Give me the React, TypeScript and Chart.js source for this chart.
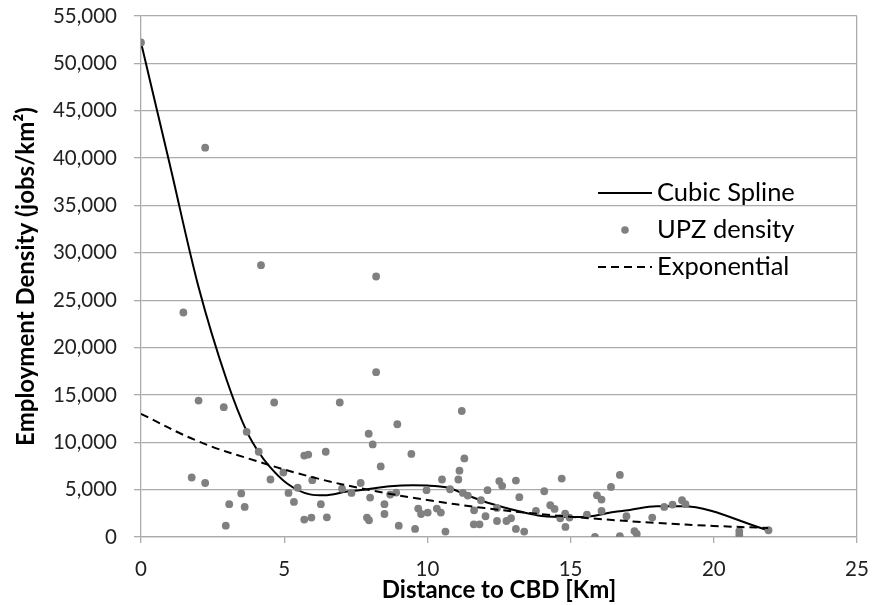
import React, { useEffect, useRef } from "react";
import { Chart, registerables } from "chart.js";

Chart.register(...registerables);

// UPZ density scatter (distance km, jobs/km²)
const upzX = [
  0, 2.24, 4.19, 8.21, 1.48, 8.21, 2.01, 2.89, 4.65, 6.94,
  3.69, 4.11, 7.95, 8.09, 8.37, 5.7, 5.84, 6.45, 1.77, 2.24,
  4.52, 4.97, 5.98, 5.15, 5.47, 3.5, 3.08, 3.62, 2.96, 5.34,
  6.28, 5.7, 5.95, 6.49, 7.02, 7.35, 7.67, 8.0, 7.89, 7.96,
  8.5, 11.2, 8.95, 9.44, 11.29, 11.12, 10.51, 11.08, 12.51, 12.61,
  13.09, 14.69, 16.72, 9.97, 10.79, 11.24, 11.41, 12.1, 11.87, 13.21,
  14.08, 8.7, 8.91, 8.5, 9.68, 9.78, 10.01, 10.33, 10.47, 11.63,
  12.43, 13.79, 14.29, 14.44, 11.62, 11.82, 9.0, 9.57, 10.63, 12.03,
  12.43, 12.76, 12.92, 13.09, 13.38, 14.64, 14.81, 14.82, 14.96, 15.57,
  15.92, 16.08, 16.41, 16.08, 15.85, 16.72, 16.95, 17.23, 17.31, 17.85,
  18.27, 18.56, 18.89, 19.01, 20.89, 20.89, 21.91,
];
const upzY = [
  52200, 41100, 28700, 27500, 23700, 17400, 14400, 13700, 14200, 14200,
  11100, 9000, 10900, 9770, 7450, 8600, 8700, 9000, 6280, 5700,
  6070, 6800, 6000, 4650, 5200, 4600, 3460, 3170, 1200, 3700,
  3460, 1840, 2050, 2080, 5100, 4650, 5700, 4160, 2050, 1770,
  3460, 13300, 11900, 8770, 8300, 7000, 6070, 6070, 5900, 5400,
  5960, 6170, 6550, 4940, 5040, 4650, 4370, 4940, 3880, 4200,
  4830, 4480, 4690, 2430, 3000, 2430, 2580, 3000, 2580, 2820,
  3070, 2750, 3350, 2960, 1340, 1340, 1200, 850, 570, 2190,
  1690, 1690, 1980, 850, 570, 1980, 2470, 1060, 2050, 2370,
  4400, 3950, 5290, 2750, 0, 100, 2190, 630, 320, 2050,
  3170, 3420, 3880, 3460, 630, 250, 710,
];

// Cubic spline fit
const splineX = [0, 1, 2, 3, 3.7, 4.1, 4.5, 5.1, 5.9, 6.4, 7.2, 7.8, 8.7, 9.5, 10.0, 10.7, 11.4, 12.2, 13.2, 14.0, 14.9, 15.7, 16.5, 17.0, 18.0, 18.9, 21.9];
const splineY = [52200, 39400, 26500, 16500, 11100, 9000, 7400, 5650, 4500, 4400, 4800, 5000, 5350, 5450, 5430, 5220, 4400, 3530, 2720, 2220, 2100, 2190, 2640, 2820, 3240, 3240, 710];

// Exponential fit
const expX = [0, 2, 4, 6, 8, 10, 12, 14, 16, 18, 20, 21.9];
const expY = [13000, 10100, 8050, 6300, 4950, 3900, 3050, 2400, 1900, 1480, 1170, 950];

const legendLabels = ["Cubic Spline", "UPZ density", "Exponential"];
const xTitle = "Distance to CBD [Km]";
const yTitle = "Employment Density (jobs/km²)";

const GRID = "#ABABAB";
const FONT = "Lato, 'Open Sans', sans-serif";

export default function App() {
  const ref = useRef<HTMLCanvasElement>(null);

  useEffect(() => {
    document.body.style.margin = "0";
    const canvas = ref.current;
    if (!canvas) return;

    const legendPlugin = {
      id: "insideLegend",
      afterDraw(chart: any) {
        const ctx = chart.ctx as CanvasRenderingContext2D;
        const a = chart.chartArea;
        const x0 = a.right - 259;
        const x1 = x0 + 54;
        const tx = x1 + 5;
        const rows = [a.top + 177, a.top + 214, a.top + 251];
        ctx.save();
        ctx.font = `25.5px ${FONT}`;
        ctx.fillStyle = "#000";
        ctx.textBaseline = "middle";
        ctx.textAlign = "left";
        ctx.strokeStyle = "#000";
        ctx.lineWidth = 2;
        ctx.setLineDash([]);
        ctx.beginPath();
        ctx.moveTo(x0, rows[0]);
        ctx.lineTo(x1, rows[0]);
        ctx.stroke();
        ctx.fillText(legendLabels[0], tx, rows[0]);
        ctx.fillStyle = "#808080";
        ctx.beginPath();
        ctx.arc((x0 + x1) / 2, rows[1], 3.8, 0, Math.PI * 2);
        ctx.fill();
        ctx.fillStyle = "#000";
        ctx.fillText(legendLabels[1], tx, rows[1]);
        ctx.setLineDash([8, 5]);
        ctx.beginPath();
        ctx.moveTo(x0, rows[2]);
        ctx.lineTo(x1, rows[2]);
        ctx.stroke();
        ctx.setLineDash([]);
        ctx.fillText(legendLabels[2], tx, rows[2]);
        ctx.restore();
      },
    };

    const chart = new Chart(canvas, {
      type: "scatter",
      data: {
        datasets: [
          {
            label: legendLabels[0],
            type: "line",
            data: splineX.map((x, i) => ({ x, y: splineY[i] })),
            borderColor: "#000",
            borderWidth: 2,
            pointRadius: 0,
            cubicInterpolationMode: "monotone",
            fill: false,
            order: 2,
          } as any,
          {
            label: legendLabels[1],
            data: upzX.map((x, i) => ({ x, y: upzY[i] })),
            backgroundColor: "#808080",
            borderColor: "#808080",
            borderWidth: 0,
            pointRadius: 3.9,
            order: 1,
          },
          {
            label: legendLabels[2],
            type: "line",
            data: expX.map((x, i) => ({ x, y: expY[i] })),
            borderColor: "#000",
            borderWidth: 2,
            borderDash: [8, 5],
            pointRadius: 0,
            tension: 0.4,
            fill: false,
            order: 0,
          } as any,
        ],
      },
      options: {
        animation: false,
        responsive: false,
        maintainAspectRatio: false,
        layout: { padding: { top: 16, right: 16, left: 0, bottom: 0 } },
        plugins: { legend: { display: false }, tooltip: { enabled: false } },
        scales: {
          x: {
            type: "linear",
            min: 0,
            max: 25,
            ticks: { stepSize: 5, color: "#222", font: { family: FONT, size: 20.5 }, padding: 14 },
            grid: {
              color: (c: any) => (c.tick && c.tick.value === 25 ? GRID : "rgba(0,0,0,0)"),
              tickColor: GRID,
              tickLength: 6,
              lineWidth: 1.3,
            },
            border: { color: GRID, width: 1.3 },
            title: {
              display: true,
              text: xTitle,
              color: "#000",
              font: { family: FONT, size: 24, weight: "bold" },
              padding: { top: 0, bottom: 0 },
            },
            afterFit: (s: any) => {
              s.height = 68;
              s.paddingLeft = 0;
              s.paddingRight = 0;
            },
          },
          y: {
            type: "linear",
            min: 0,
            max: 55000,
            ticks: {
              stepSize: 5000,
              color: "#222",
              font: { family: FONT, size: 20.5 },
              padding: 17,
              callback: (v: any) => Number(v).toLocaleString("en-US"),
            },
            grid: { color: GRID, tickColor: GRID, tickLength: 7, lineWidth: 1.3 },
            border: { color: GRID, width: 1.3 },
            title: {
              display: true,
              text: yTitle,
              color: "#000",
              font: { family: FONT, size: 24, weight: "bold" },
              padding: { top: 12, bottom: 0 },
            },
            afterFit: (s: any) => {
              s.width = 141;
              s.paddingTop = 0;
              s.paddingBottom = 0;
            },
          },
        },
      },
      plugins: [legendPlugin],
    });

    return () => chart.destroy();
  }, []);

  return (
    <div style={{ width: 873, height: 605 }}>
      <canvas ref={ref} width={873} height={605} style={{ width: 873, height: 605, display: "block" }} />
    </div>
  );
}
